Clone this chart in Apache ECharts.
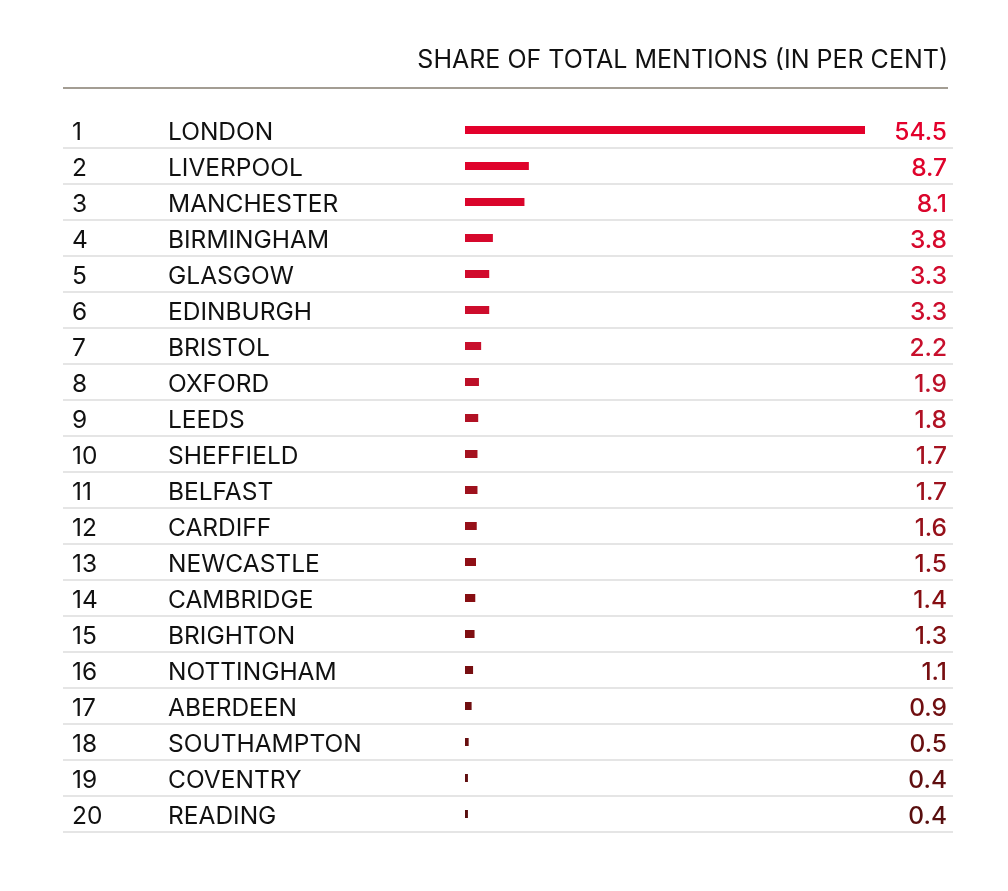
<!DOCTYPE html>
<html>
<head>
<meta charset="utf-8">
<script src="https://cdn.jsdelivr.net/npm/echarts@6/dist/echarts.min.js"></script>
<style>
  html, body { margin: 0; padding: 0; background: #fff; }
  #chart { width: 1008px; height: 891px; }
</style>
</head>
<body>
<div id="chart"></div>
<script>
// 数据
const ranks = [1, 2, 3, 4, 5, 6, 7, 8, 9, 10, 11, 12, 13, 14, 15, 16, 17, 18, 19, 20];
const cities = ['LONDON', 'LIVERPOOL', 'MANCHESTER', 'BIRMINGHAM', 'GLASGOW', 'EDINBURGH', 'BRISTOL',
    'OXFORD', 'LEEDS', 'SHEFFIELD', 'BELFAST', 'CARDIFF', 'NEWCASTLE', 'CAMBRIDGE', 'BRIGHTON',
    'NOTTINGHAM', 'ABERDEEN', 'SOUTHAMPTON', 'COVENTRY', 'READING'];
const shares = [54.5, 8.7, 8.1, 3.8, 3.3, 3.3, 2.2, 1.9, 1.8, 1.7, 1.7, 1.6, 1.5, 1.4, 1.3, 1.1, 0.9, 0.5, 0.4, 0.4];
const headline = 'SHARE OF TOTAL MENTIONS (IN PER CENT)';

const FONT = 'Inter, "Noto Sans", sans-serif';

// 从红色渐变到深褐红
const colorStops = [
    [0, [227, 0, 43]],
    [6, [200, 15, 44]],
    [9, [165, 18, 32]],
    [13, [135, 14, 18]],
    [19, [88, 14, 14]]
];
function rowColor(i) {
    for (let k = 0; k < colorStops.length - 1; k++) {
        const a = colorStops[k], b = colorStops[k + 1];
        if (i >= a[0] && i <= b[0]) {
            const t = (i - a[0]) / (b[0] - a[0]);
            const c = a[1].map((v, j) => Math.round(v + (b[1][j] - v) * t));
            return 'rgb(' + c.join(',') + ')';
        }
    }
    return '#5a0e0e';
}

// 每行数值的文字样式
const valueRich = {};
shares.forEach((v, i) => {
    valueRich['c' + i] = {
        fontFamily: FONT, fontSize: 24.5, fontWeight: 500,
        color: rowColor(i), padding: [6, 0, 0, 0]
    };
});

const myChart = echarts.init(document.getElementById('chart'));

// 条形从 x=465 开始，54.5 到 x=865
const pxPerUnit = 400 / 54.5;
const option = {
    animation: false,
    title: {
        text: headline,
        right: 55,
        top: 43,
        textStyle: { fontFamily: FONT, fontWeight: 'normal', fontSize: 25, color: '#111' }
    },
    graphic: [{
        type: 'line',
        shape: { x1: 63, y1: 88, x2: 948, y2: 88 },
        style: { stroke: '#a39d93', lineWidth: 2 }
    }],
    grid: { left: 63, right: 55, top: 112, bottom: 59, containLabel: false },
    xAxis: {
        type: 'value',
        min: -402 / pxPerUnit,
        max: 54.5 + 88 / pxPerUnit,
        show: false
    },
    yAxis: [{
        type: 'category',
        inverse: true,
        data: cities,
        axisLine: { show: false },
        axisTick: { show: false },
        splitLine: {
            show: true,
            interval: function (index) { return index > 0; },
            lineStyle: { color: '#dcdcdc', width: 1.5 }
        },
        axisLabel: {
            align: 'left',
            margin: -9,
            formatter: function (value, index) {
                return '{r|' + ranks[index] + '}{n|' + value + '}';
            },
            rich: {
                r: { width: 96, fontFamily: FONT, fontSize: 24.5, color: '#111', padding: [6, 0, 0, 0] },
                n: { fontFamily: FONT, fontSize: 24.5, color: '#111', padding: [6, 0, 0, 0] }
            }
        }
    }, {
        type: 'category',
        inverse: true,
        position: 'right',
        data: shares.map(v => v.toFixed(1)),
        axisLine: { show: false },
        axisTick: { show: false },
        splitLine: { show: false },
        axisLabel: {
            align: 'right',
            margin: -6,
            formatter: function (value, index) {
                return '{c' + index + '|' + value + '}';
            },
            rich: valueRich
        }
    }],
    series: [{
        type: 'bar',
        yAxisIndex: 0,
        data: shares.map((v, i) => ({ value: v, itemStyle: { color: rowColor(i) } })),
        barWidth: 8
    }]
};
myChart.setOption(option);
</script>
</body>
</html>
